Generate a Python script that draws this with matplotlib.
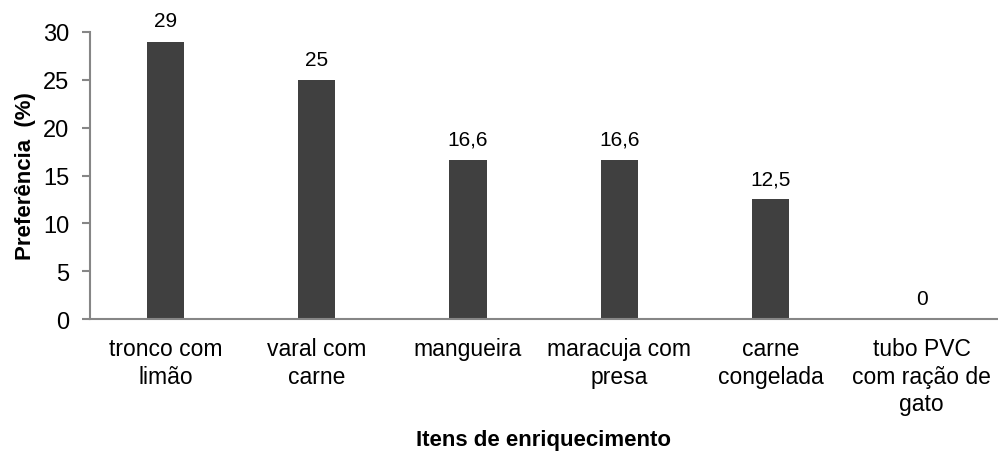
import matplotlib
matplotlib.use("Agg")
import matplotlib.pyplot as plt

plt.rcParams['font.family'] = ['Liberation Sans', 'DejaVu Sans']

# dados
categorias = ['tronco com\nlimão', 'varal com\ncarne', 'mangueira', 'maracuja com\npresa',
              'carne\ncongelada', 'tubo PVC\ncom ração de\ngato']
preferencia = [29, 25, 16.6, 16.6, 12.5, 0]
rotulos = ['29', '25', '16,6', '16,6', '12,5', '0']

fig = plt.figure(figsize=(9.98, 4.52), dpi=100)
ax = fig.add_axes([0.0902, 0.292, 0.909, 0.635])

x = range(len(categorias))
barras = ax.bar(x, preferencia, width=0.245, color='#404040')

# rótulos de valor acima das barras
for xi, v, r in zip(x, preferencia, rotulos):
    ax.annotate(r, (xi, v), xytext=(0, 11), textcoords='offset points',
                ha='center', va='baseline', fontsize=15)

ax.set_xlim(-0.5, len(categorias) - 0.5)
ax.set_ylim(0, 30)
ax.set_yticks(range(0, 31, 5))
ax.set_xticks(list(x))
ax.set_xticklabels(categorias, fontsize=16.5, linespacing=1.25)
ax.tick_params(axis='x', length=0, pad=13)
ax.tick_params(axis='y', labelsize=17, length=6, width=1.5, color='#868686', pad=9)

for s in ['top', 'right']:
    ax.spines[s].set_visible(False)
for s in ['left', 'bottom']:
    ax.spines[s].set_color('#868686')
    ax.spines[s].set_linewidth(1.5)

ax.set_ylabel('Preferência  (%)', fontsize=16, fontweight='bold', labelpad=5)
ax.set_xlabel('Itens de enriquecimento', fontsize=16, fontweight='bold', labelpad=10)

fig.savefig('out.png', dpi=100)
